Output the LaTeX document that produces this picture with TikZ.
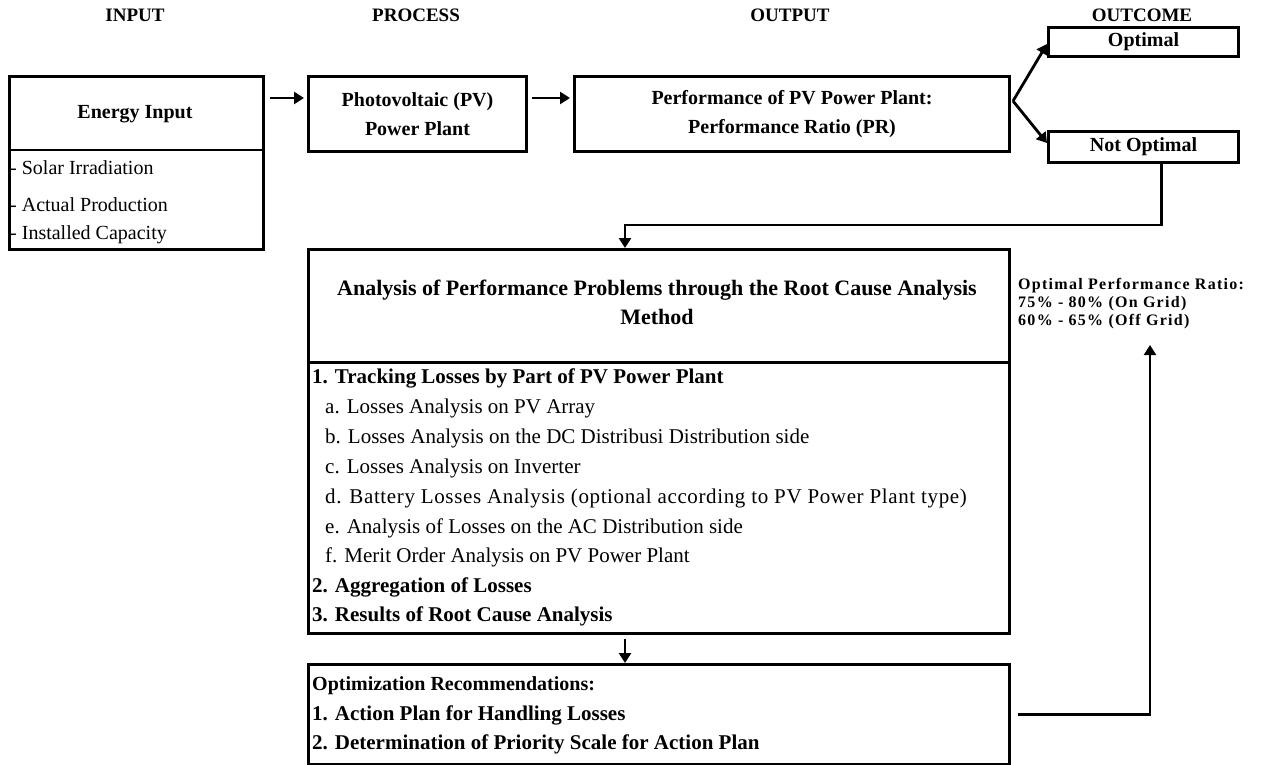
\documentclass[tikz,border=0pt]{standalone}
\usepackage{fontspec}
\setmainfont{Liberation Serif}
\usetikzlibrary{arrows.meta}
\begin{document}
\begin{tikzpicture}[x=1pt,y=-1pt,
  box/.style={draw, line width=3pt, inner sep=0pt, anchor=north west},
  arr/.style={line width=2.8pt, -{Triangle[length=10pt,width=12pt]}},
  hdr/.style={font=\bfseries\fontsize{19}{22}\selectfont, inner sep=0pt},
  btitle/.style={font=\bfseries\fontsize{20}{29}\selectfont, align=center, inner sep=0pt},
  itm/.style={font=\fontsize{21}{24}\selectfont, anchor=west, inner sep=0pt},
  bitm/.style={font=\bfseries\fontsize{21}{24}\selectfont, anchor=west, inner sep=0pt},
  note/.style={font=\bfseries\fontsize{16}{18}\selectfont\addfontfeatures{LetterSpace=8}, align=left, anchor=north west, inner sep=0pt}]
\useasboundingbox (0,0) rectangle (1269,765);

% headers
\node[hdr] (hin)  at (135,15) {INPUT};
\node[hdr] (hpr)  at (416,15) {PROCESS};
\node[hdr] (hout) at (790,15) {OUTPUT};
\node[hdr] (hoc)  at (1142,15) {OUTCOME};

% boxes
\node[box, minimum width=254, minimum height=173] (energy) at (8,75) {};
\node[box, minimum width=218, minimum height=75] (pv) at (307,75) {};
\node[box, minimum width=435, minimum height=75] (perf) at (573,75) {};
\node[box, minimum width=190, minimum height=29] (opt) at (1047,26) {};
\node[box, minimum width=190, minimum height=31] (nopt) at (1047,130) {};
\node[box, minimum width=701, minimum height=384] (anal) at (307,248) {};
\node[box, minimum width=701, minimum height=100] (reco) at (307,663) {};

% energy box content
\coordinate (ediv) at (0,150);
\draw[line width=1.5pt] (energy.west |- ediv) -- (energy.east |- ediv);
\node[btitle] (etitle) at (135,114) {Energy Input};
\node[itm, font=\fontsize{20}{24}\selectfont] (e1) at (10,168) {- Solar Irradiation};
\node[itm, font=\fontsize{20}{24}\selectfont] (e2) at (10,205) {- Actual Production};
\node[itm, font=\fontsize{20}{24}\selectfont] (e3) at (10,235) {- Installed Capacity};

% pv / perf / outcome texts
\node[btitle] (pvt) at (pv.center) {Photovoltaic (PV)\\Power Plant};
\node[btitle] (perft) at (perf.center) {Performance of PV Power Plant:\\Performance Ratio (PR)};
\node[btitle] (optt) at (opt.center) {Optimal};
\node[btitle] (noptt) at (nopt.center) {Not Optimal};

% analysis box
\coordinate (adiv) at (0,362);
\draw[line width=3pt] (anal.west |- adiv) -- (anal.east |- adiv);
\node[btitle, font=\bfseries\fontsize{22}{29}\selectfont] (atitle) at (657,302) {Analysis of Performance Problems through the Root Cause Analysis\\Method};
\node[bitm] (l1) at (312,378) {1. Tracking Losses by Part of PV Power Plant};
\node[itm] (la) at (325,408) {a. Losses Analysis on PV Array};
\node[itm] (lb) at (325,438) {b. Losses Analysis on the DC Distribusi Distribution side};
\node[itm] (lc) at (325,468) {c. Losses Analysis on Inverter};
\node[itm, font=\fontsize{21}{24}\selectfont\addfontfeatures{LetterSpace=3}] (ld) at (325,498) {d. Battery Losses Analysis (optional according to PV Power Plant type)};
\node[itm] (le) at (325,528) {e. Analysis of Losses on the AC Distribution side};
\node[itm] (lf) at (325,557) {f. Merit Order Analysis on PV Power Plant};
\node[bitm] (l2) at (312,587) {2. Aggregation of Losses};
\node[bitm] (l3) at (312,616) {3. Results of Root Cause Analysis};

% recommendation box
\node[bitm, font=\bfseries\fontsize{20}{24}\selectfont] (r0) at (312,686) {Optimization Recommendations:};
\node[bitm] (r1) at (312,715) {1. Action Plan for Handling Losses};
\node[bitm] (r2) at (312,744) {2. Determination of Priority Scale for Action Plan};

% note
\node[note] (nt) at (1018,278) {Optimal Performance Ratio:\\75\% - 80\% (On Grid)\\60\% - 65\% (Off Grid)};

% connectors
\draw[arr] ([xshift=5pt,yshift=16pt]pv.west -| energy.east) -- ([xshift=-3pt,yshift=16pt]pv.west);
\draw[arr] ([xshift=4pt,yshift=16pt]perf.west -| pv.east) -- ([xshift=-3pt,yshift=16pt]perf.west);
\draw[arr] ([xshift=2pt,yshift=13pt]perf.east) -- ([yshift=-2pt]opt.west);
\draw[arr] ([xshift=2pt,yshift=13pt]perf.east) -- ([yshift=4pt]nopt.west);
\coordinate (ax) at (625,0);
\draw[arr] ([xshift=18pt]nopt.south) -- ++(0,61) -| (anal.north -| ax);
\draw[arr] ([yshift=-4pt]anal.south -| ax) -- (reco.north -| ax);
\coordinate (fb) at (1150,345);
\draw[arr, line width=2.2pt] ([xshift=7pt]reco.east) -| (fb);
\end{tikzpicture}
\end{document}
